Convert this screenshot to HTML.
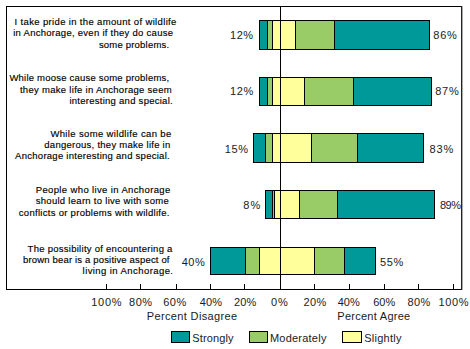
<!DOCTYPE html>
<html><head><meta charset="utf-8"><style>
html,body{margin:0;padding:0;background:#fff;width:470px;height:349px;overflow:hidden}
svg{display:block}
</style></head><body>
<svg width="470" height="349" viewBox="0 0 470 349">
<rect x="0" y="0" width="470" height="349" fill="#fff"/>
<g shape-rendering="crispEdges">
<rect x="259" y="20" width="9" height="30" fill="#009999"/>
<rect x="267" y="20" width="6" height="30" fill="#99CC66"/>
<rect x="272" y="20" width="9" height="30" fill="#FFFF9C"/>
<rect x="280" y="20" width="16" height="30" fill="#FFFF9C"/>
<rect x="295" y="20" width="40" height="30" fill="#99CC66"/>
<rect x="334" y="20" width="96" height="30" fill="#009999"/>
<rect x="259" y="20" width="171" height="1" fill="#000000"/>
<rect x="259" y="49" width="171" height="1" fill="#000000"/>
<rect x="259" y="20" width="1" height="30" fill="#000000"/>
<rect x="267" y="20" width="1" height="30" fill="#000000"/>
<rect x="272" y="20" width="1" height="30" fill="#000000"/>
<rect x="280" y="20" width="1" height="30" fill="#000000"/>
<rect x="295" y="20" width="1" height="30" fill="#000000"/>
<rect x="334" y="20" width="1" height="30" fill="#000000"/>
<rect x="429" y="20" width="1" height="30" fill="#000000"/>
<rect x="259" y="77" width="9" height="29" fill="#009999"/>
<rect x="267" y="77" width="6" height="29" fill="#99CC66"/>
<rect x="272" y="77" width="9" height="29" fill="#FFFF9C"/>
<rect x="280" y="77" width="25" height="29" fill="#FFFF9C"/>
<rect x="304" y="77" width="50" height="29" fill="#99CC66"/>
<rect x="353" y="77" width="79" height="29" fill="#009999"/>
<rect x="259" y="77" width="173" height="1" fill="#000000"/>
<rect x="259" y="105" width="173" height="1" fill="#000000"/>
<rect x="259" y="77" width="1" height="29" fill="#000000"/>
<rect x="267" y="77" width="1" height="29" fill="#000000"/>
<rect x="272" y="77" width="1" height="29" fill="#000000"/>
<rect x="280" y="77" width="1" height="29" fill="#000000"/>
<rect x="304" y="77" width="1" height="29" fill="#000000"/>
<rect x="353" y="77" width="1" height="29" fill="#000000"/>
<rect x="431" y="77" width="1" height="29" fill="#000000"/>
<rect x="253" y="133" width="13" height="30" fill="#009999"/>
<rect x="265" y="133" width="8" height="30" fill="#99CC66"/>
<rect x="272" y="133" width="9" height="30" fill="#FFFF9C"/>
<rect x="280" y="133" width="32" height="30" fill="#FFFF9C"/>
<rect x="311" y="133" width="47" height="30" fill="#99CC66"/>
<rect x="357" y="133" width="67" height="30" fill="#009999"/>
<rect x="253" y="133" width="171" height="1" fill="#000000"/>
<rect x="253" y="162" width="171" height="1" fill="#000000"/>
<rect x="253" y="133" width="1" height="30" fill="#000000"/>
<rect x="265" y="133" width="1" height="30" fill="#000000"/>
<rect x="272" y="133" width="1" height="30" fill="#000000"/>
<rect x="280" y="133" width="1" height="30" fill="#000000"/>
<rect x="311" y="133" width="1" height="30" fill="#000000"/>
<rect x="357" y="133" width="1" height="30" fill="#000000"/>
<rect x="423" y="133" width="1" height="30" fill="#000000"/>
<rect x="265" y="190" width="8" height="29" fill="#009999"/>
<rect x="272" y="190" width="3" height="29" fill="#99CC66"/>
<rect x="274" y="190" width="7" height="29" fill="#FFFF9C"/>
<rect x="280" y="190" width="20" height="29" fill="#FFFF9C"/>
<rect x="299" y="190" width="39" height="29" fill="#99CC66"/>
<rect x="337" y="190" width="98" height="29" fill="#009999"/>
<rect x="265" y="190" width="170" height="1" fill="#000000"/>
<rect x="265" y="218" width="170" height="1" fill="#000000"/>
<rect x="265" y="190" width="1" height="29" fill="#000000"/>
<rect x="272" y="190" width="1" height="29" fill="#000000"/>
<rect x="274" y="190" width="1" height="29" fill="#000000"/>
<rect x="280" y="190" width="1" height="29" fill="#000000"/>
<rect x="299" y="190" width="1" height="29" fill="#000000"/>
<rect x="337" y="190" width="1" height="29" fill="#000000"/>
<rect x="434" y="190" width="1" height="29" fill="#000000"/>
<rect x="210" y="247" width="36" height="28" fill="#009999"/>
<rect x="245" y="247" width="15" height="28" fill="#99CC66"/>
<rect x="259" y="247" width="22" height="28" fill="#FFFF9C"/>
<rect x="280" y="247" width="35" height="28" fill="#FFFF9C"/>
<rect x="314" y="247" width="31" height="28" fill="#99CC66"/>
<rect x="344" y="247" width="32" height="28" fill="#009999"/>
<rect x="210" y="247" width="166" height="1" fill="#000000"/>
<rect x="210" y="274" width="166" height="1" fill="#000000"/>
<rect x="210" y="247" width="1" height="28" fill="#000000"/>
<rect x="245" y="247" width="1" height="28" fill="#000000"/>
<rect x="259" y="247" width="1" height="28" fill="#000000"/>
<rect x="280" y="247" width="1" height="28" fill="#000000"/>
<rect x="314" y="247" width="1" height="28" fill="#000000"/>
<rect x="344" y="247" width="1" height="28" fill="#000000"/>
<rect x="375" y="247" width="1" height="28" fill="#000000"/>
<rect x="6" y="6" width="456" height="1" fill="#000000"/>
<rect x="6" y="289" width="456" height="1" fill="#000000"/>
<rect x="6" y="6" width="1" height="284" fill="#000000"/>
<rect x="461" y="6" width="1" height="284" fill="#222"/>
<rect x="462" y="6" width="1" height="284" fill="#aaa"/>
<rect x="280" y="6" width="1" height="284" fill="#000000"/>
<rect x="106" y="284" width="1" height="6" fill="#000000"/>
<rect x="140" y="284" width="1" height="6" fill="#000000"/>
<rect x="176" y="284" width="1" height="6" fill="#000000"/>
<rect x="210" y="284" width="1" height="6" fill="#000000"/>
<rect x="244" y="284" width="1" height="6" fill="#000000"/>
<rect x="280" y="284" width="1" height="6" fill="#000000"/>
<rect x="314" y="284" width="1" height="6" fill="#000000"/>
<rect x="349" y="284" width="1" height="6" fill="#000000"/>
<rect x="384" y="284" width="1" height="6" fill="#000000"/>
<rect x="418" y="284" width="1" height="6" fill="#000000"/>
<rect x="453" y="284" width="1" height="6" fill="#000000"/>
<rect x="171" y="331" width="19" height="12" fill="#000"/>
<rect x="172" y="332" width="17" height="10" fill="#009999"/>
<rect x="249" y="331" width="19" height="12" fill="#000"/>
<rect x="250" y="332" width="17" height="10" fill="#99CC66"/>
<rect x="342" y="331" width="20" height="12" fill="#000"/>
<rect x="343" y="332" width="18" height="10" fill="#FFFF9C"/>
</g>
<g font-family="Liberation Sans, sans-serif" font-size="9.5" fill="#000" stroke="#000" stroke-width="0.15">
<text x="14.60" y="25.0" textLength="161.80" lengthAdjust="spacing">I take pride in the amount of wildlife</text>
<text x="13.20" y="36.3" textLength="159.80" lengthAdjust="spacing">in Anchorage, even if they do cause</text>
<text x="98.90" y="47.5" textLength="70.20" lengthAdjust="spacing">some problems.</text>
<text x="9.40" y="81.0" textLength="159.70" lengthAdjust="spacing">While moose cause some problems,</text>
<text x="19.90" y="92.5" textLength="151.80" lengthAdjust="spacing">they make life in Anchorage seem</text>
<text x="69.40" y="103.7" textLength="103.30" lengthAdjust="spacing">interesting and special.</text>
<text x="50.40" y="136.5" textLength="120.80" lengthAdjust="spacing">While some wildlife can be</text>
<text x="44.30" y="147.8" textLength="126.00" lengthAdjust="spacing">dangerous, they make life in</text>
<text x="15.10" y="159.3" textLength="154.60" lengthAdjust="spacing">Anchorage interesting and special.</text>
<text x="35.70" y="193.0" textLength="134.60" lengthAdjust="spacing">People who live in Anchorage</text>
<text x="35.70" y="204.3" textLength="133.00" lengthAdjust="spacing">should learn to live with some</text>
<text x="18.80" y="215.6" textLength="150.70" lengthAdjust="spacing">conflicts or problems with wildlife.</text>
<text x="27.60" y="251.8" textLength="144.80" lengthAdjust="spacing">The possibility of encountering a</text>
<text x="23.00" y="263.1" textLength="146.50" lengthAdjust="spacing">brown bear is a positive aspect of</text>
<text x="82.60" y="274.4" textLength="90.40" lengthAdjust="spacing">living in Anchorage.</text>
</g>
<g font-family="Liberation Sans, sans-serif" font-size="11" fill="#1a1a1a">
<text x="230.10" y="38.7" textLength="22.90" lengthAdjust="spacing">12%</text>
<text x="433.30" y="38.7" textLength="23.50" lengthAdjust="spacing">86%</text>
<text x="230.10" y="95.4" textLength="23.30" lengthAdjust="spacing">12%</text>
<text x="435.30" y="95.4" textLength="23.40" lengthAdjust="spacing">87%</text>
<text x="224.80" y="152.9" textLength="23.20" lengthAdjust="spacing">15%</text>
<text x="429.60" y="152.9" textLength="23.60" lengthAdjust="spacing">83%</text>
<text x="243.30" y="209.3" textLength="17.10" lengthAdjust="spacing">8%</text>
<text x="440.00" y="209.3" textLength="21.00" lengthAdjust="spacing">89%</text>
<text x="181.70" y="265.7" textLength="23.10" lengthAdjust="spacing">40%</text>
<text x="380.10" y="265.7" textLength="23.20" lengthAdjust="spacing">55%</text>
<text x="91.20" y="305.7" textLength="30.40" lengthAdjust="spacing">100%</text>
<text x="129.10" y="305.7" textLength="22.90" lengthAdjust="spacing">80%</text>
<text x="163.30" y="305.7" textLength="22.90" lengthAdjust="spacing">60%</text>
<text x="199.70" y="305.7" textLength="22.40" lengthAdjust="spacing">40%</text>
<text x="233.90" y="305.7" textLength="22.40" lengthAdjust="spacing">20%</text>
<text x="270.90" y="305.7" textLength="17.00" lengthAdjust="spacing">0%</text>
<text x="303.40" y="305.7" textLength="23.00" lengthAdjust="spacing">20%</text>
<text x="337.70" y="305.7" textLength="22.00" lengthAdjust="spacing">40%</text>
<text x="373.20" y="305.7" textLength="22.00" lengthAdjust="spacing">60%</text>
<text x="407.40" y="305.7" textLength="23.00" lengthAdjust="spacing">80%</text>
<text x="438.40" y="305.7" textLength="30.10" lengthAdjust="spacing">100%</text>
<text x="146.70" y="320.3" textLength="90.50" lengthAdjust="spacing">Percent Disagree</text>
<text x="337.30" y="320.3" textLength="72.90" lengthAdjust="spacing">Percent Agree</text>
<text x="192.20" y="342.0" textLength="41.40" lengthAdjust="spacing">Strongly</text>
<text x="269.90" y="342.0" textLength="56.50" lengthAdjust="spacing">Moderately</text>
<text x="364.20" y="342.0" textLength="37.20" lengthAdjust="spacing">Slightly</text>
</g>
</svg>
</body></html>
